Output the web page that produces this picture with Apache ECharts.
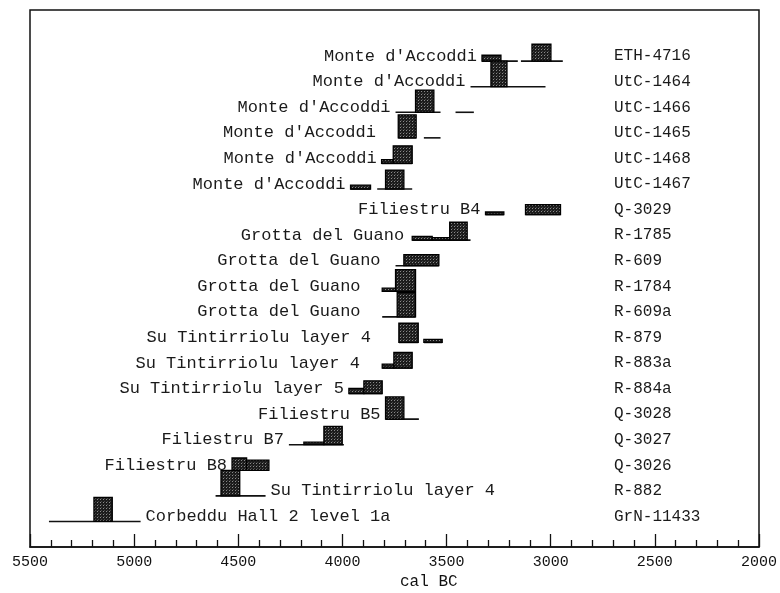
<!DOCTYPE html>
<html>
<head>
<meta charset="utf-8">
<script src="https://cdn.jsdelivr.net/npm/echarts@6/dist/echarts.min.js"></script>
<style>
html,body{margin:0;padding:0;background:#fff;}
#chart{width:780px;height:593px;}
</style>
</head>
<body>
<div id="chart"></div>
<script>
// Site names (top to bottom)
const sites = [
  "Monte d'Accoddi", "Monte d'Accoddi", "Monte d'Accoddi", "Monte d'Accoddi",
  "Monte d'Accoddi", "Monte d'Accoddi", "Filiestru B4", "Grotta del Guano",
  "Grotta del Guano", "Grotta del Guano", "Grotta del Guano", "Su Tintirriolu layer 4",
  "Su Tintirriolu layer 4", "Su Tintirriolu layer 5", "Filiestru B5", "Filiestru B7",
  "Filiestru B8", "Su Tintirriolu layer 4", "Corbeddu Hall 2 level 1a"
];
// Laboratory codes
const labCodes = [
  "ETH-4716", "UtC-1464", "UtC-1466", "UtC-1465", "UtC-1468", "UtC-1467",
  "Q-3029", "R-1785", "R-609", "R-1784", "R-609a", "R-879", "R-883a",
  "R-884a", "Q-3028", "Q-3027", "Q-3026", "R-882", "GrN-11433"
];
// Which side of the ranges the site name is written on
const labelSide = [
  "left","left","left","left","left","left","left","left","left","left",
  "left","left","left","left","left","left","left","right","right"
];
// Year (cal BC) at which each sample's name is attached
const labelYear = [
  3330, 3385, 3745, 3815, 3812, 3961, 3313, 3680, 3793, 3889,
  3889, 3839, 3892, 3969, 3793, 4257, 4530, 4369, 4969
];
// 1-sigma ranges: [row, from (cal BC), to (cal BC), relative probability]
const sigma1 = [
  [0, 3330, 3239, 0.23], [0, 3090, 2999, 0.66],
  [1, 3287, 3210, 1.00],
  [2, 3649, 3561, 0.87],
  [3, 3732, 3646, 0.90],
  [4, 3812, 3756, 0.15], [4, 3756, 3665, 0.69],
  [5, 3961, 3865, 0.15], [5, 3793, 3705, 0.74],
  [6, 3313, 3225, 0.10], [6, 3121, 2953, 0.39],
  [7, 3665, 3569, 0.15], [7, 3569, 3485, 0.10], [7, 3485, 3401, 0.70],
  [8, 3705, 3537, 0.43],
  [9, 3809, 3745, 0.12], [9, 3745, 3649, 0.85],
  [10, 3737, 3649, 0.95],
  [11, 3729, 3636, 0.75], [11, 3609, 3521, 0.12],
  [12, 3809, 3753, 0.15], [12, 3753, 3665, 0.61],
  [13, 3969, 3897, 0.20], [13, 3897, 3809, 0.50],
  [14, 3793, 3705, 0.87],
  [15, 4185, 4089, 0.10], [15, 4089, 4001, 0.72],
  [16, 4530, 4460, 0.48], [16, 4460, 4353, 0.40],
  [17, 4583, 4493, 1.00],
  [18, 5193, 5105, 0.94]
];
// 2-sigma ranges: [row, from (cal BC), to (cal BC)]
const sigma2 = [
  [0, 3330, 3158], [0, 3143, 2942],
  [1, 3385, 3025],
  [2, 3745, 3529], [2, 3457, 3369],
  [3, 3732, 3646], [3, 3609, 3529],
  [4, 3812, 3665],
  [5, 3961, 3865], [5, 3833, 3665],
  [6, 3313, 3225], [6, 3121, 2953],
  [7, 3665, 3385],
  [8, 3745, 3537],
  [9, 3809, 3649],
  [10, 3809, 3649],
  [11, 3729, 3636], [11, 3609, 3521],
  [12, 3809, 3665],
  [13, 3969, 3809],
  [14, 3793, 3633],
  [15, 4257, 3993],
  [16, 4530, 4353],
  [17, 4609, 4369],
  [18, 5409, 4969]
];
// X axis
const xMin = 2000, xMax = 5500, xStep = 500;
const axisTitle = "cal BC";

const FONT = "'Liberation Mono', 'DejaVu Sans Mono', monospace";
const chart = echarts.init(document.getElementById('chart'));

// stippled fill like the scanned boxes
const pat = document.createElement('canvas');
pat.width = 3; pat.height = 3;
(function () {
  const c = pat.getContext('2d');
  c.fillStyle = '#1c1c1c'; c.fillRect(0, 0, 3, 3);
  c.fillStyle = '#8a8a8a'; c.fillRect(1, 1, 1, 1);
  c.fillStyle = '#454545'; c.fillRect(2, 0, 1, 1);
})();

const option = {
  animation: false,
  backgroundColor: '#fff',
  grid: { left: 30, right: 20, top: 10, bottom: 46, show: true, borderColor: '#111', borderWidth: 1.5 },
  xAxis: {
    type: 'value', min: xMin, max: xMax, interval: xStep, inverse: true,
    axisLine: { show: true, onZero: false, lineStyle: { color: '#111', width: 1.5 } },
    axisTick: { show: true, inside: true, length: 13, lineStyle: { color: '#111', width: 1.3 } },
    minorTick: { show: true, splitNumber: 5, length: 7, lineStyle: { color: '#111', width: 1.3 } },
    splitLine: { show: false },
    axisLabel: { color: '#111', fontFamily: FONT, fontSize: 15, margin: 8,
      formatter: function (v) { return String(v); } }
  },
  yAxis: {
    type: 'value', min: -2, max: 19, inverse: true, show: false,
    splitLine: { show: false }
  },
  graphic: [{
    type: 'text', left: 400, top: 574,
    style: { text: axisTitle, font: '16px ' + FONT, fill: '#111' }
  }],
  series: [
    {
      type: 'custom', name: 'sigma2', data: sigma2, encode: { x: [1, 2], y: 0 },
      renderItem: function (params, api) {
        const r = api.value(0);
        const p1 = api.coord([api.value(1), r]);
        const p2 = api.coord([api.value(2), r]);
        return { type: 'line', shape: { x1: p1[0], y1: p1[1], x2: p2[0], y2: p2[1] },
          style: { stroke: '#111', lineWidth: 1.6 } };
      }
    },
    {
      type: 'custom', name: 'sigma1', data: sigma1, encode: { x: [1, 2], y: 0 },
      renderItem: function (params, api) {
        const r = api.value(0);
        const p1 = api.coord([api.value(1), r - api.value(3)]);
        const p2 = api.coord([api.value(2), r]);
        return { type: 'rect', shape: { x: p1[0], y: p1[1], width: p2[0] - p1[0], height: p2[1] - p1[1] },
          style: { fill: { image: pat, repeat: 'repeat' }, stroke: '#000', lineWidth: 1.3 } };
      }
    },
    {
      type: 'custom', name: 'labels', data: sites.map((s, i) => [labelYear[i], i]), encode: { x: 0, y: 1 },
      renderItem: function (params, api) {
        const r = params.dataIndex;
        const p = api.coord([api.value(0), r]);
        const gridRight = api.coord([xMin, r])[0];
        const side = labelSide[r];
        return {
          type: 'group',
          children: [
            { type: 'text', x: side === 'left' ? p[0] - 5 : p[0] + 5, y: p[1] - 5,
              style: { text: sites[r], font: '17px ' + FONT, fill: '#1a1a1a',
                textAlign: side === 'left' ? 'right' : 'left', textVerticalAlign: 'middle' } },
            { type: 'text', x: gridRight - 145, y: p[1] - 5,
              style: { text: labCodes[r], font: '16px ' + FONT, fill: '#1a1a1a',
                textAlign: 'left', textVerticalAlign: 'middle' } }
          ]
        };
      }
    }
  ]
};
chart.setOption(option);
</script>
</body>
</html>
